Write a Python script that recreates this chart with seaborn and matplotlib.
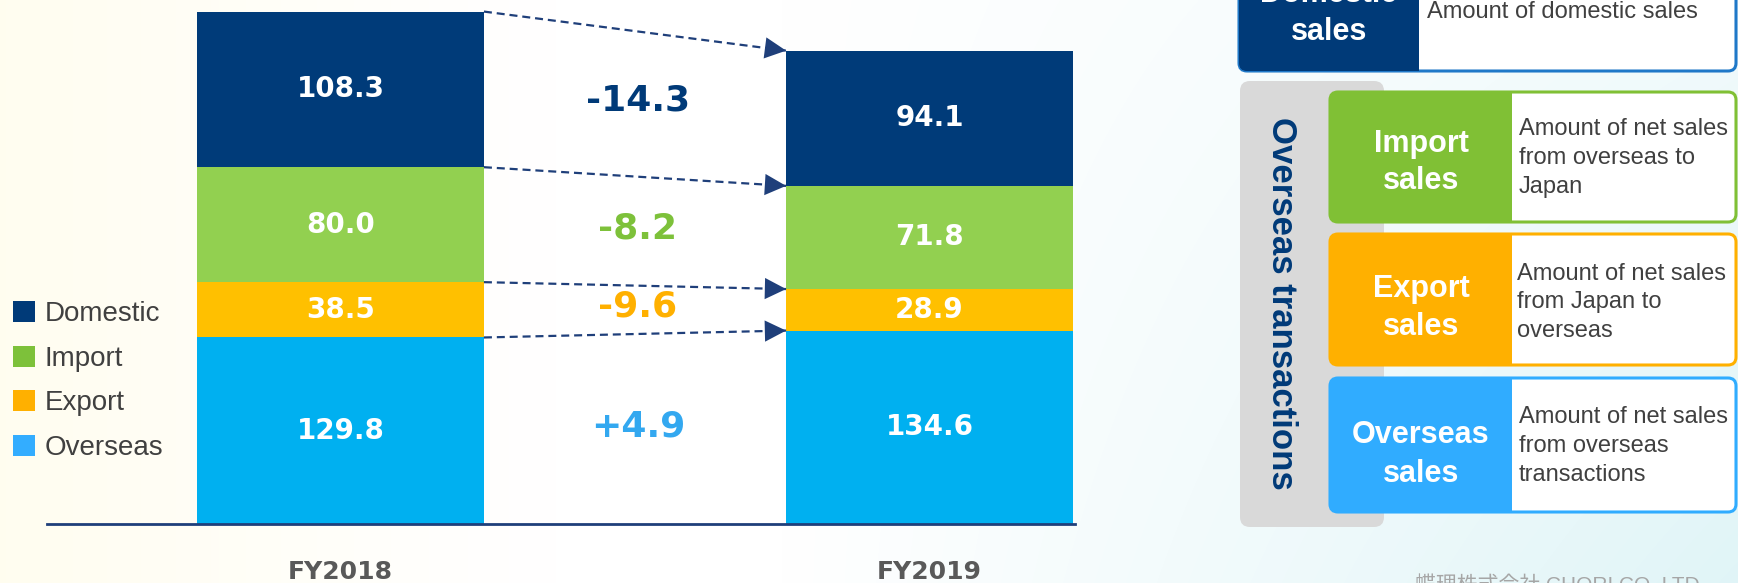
import numpy as np
import pandas as pd
import matplotlib
matplotlib.use("Agg")
import matplotlib.pyplot as plt
from matplotlib.patches import FancyBboxPatch, Rectangle, Patch
import seaborn as sns

# ---------------- data ----------------
years = ["FY2018", "FY2019"]
domestic = [108.3, 94.1]
import_sales = [80.0, 71.8]
export_sales = [38.5, 28.9]
overseas = [129.8, 134.6]
changes = [-14.3, -8.2, -9.6, 4.9]          # Domestic, Import, Export, Overseas
series_names = ["Domestic", "Import", "Export", "Overseas"]

panel_titles = [["Import", "sales"], ["Export", "sales"], ["Overseas", "sales"]]
panel_desc = [["Amount of net sales", "from overseas to", "Japan"],
              ["Amount of net sales", "from Japan to", "overseas"],
              ["Amount of net sales", "from overseas", "transactions"]]
footer = "蝶理株式会社 CHORI CO.,LTD."

# ---------------- style ----------------
bar_colors = ["#003B79", "#92D050", "#FFC000", "#00B0F0"]
legend_colors = ["#003A78", "#7DC13A", "#FFB000", "#33ADFF"]
change_colors = ["#003A78", "#7DC13A", "#FFB000", "#33A8F0"]
box_colors = ["#80C035", "#FFB000", "#30ACFF"]
navy = "#003A78"

sns.set_theme(style="white")
plt.rcParams["font.family"] = ["DejaVu Sans"]

W, H = 1738, 583
fig = plt.figure(figsize=(W / 100, H / 100), dpi=100)

# ---------------- background ----------------
bg = fig.add_axes([0, 0, 1, 1], zorder=-10)
yy, xx = np.mgrid[0:1:H * 1j, 0:1:W * 1j]
cream = np.array([1.0, 0.992, 0.93])
cyan = np.array([0.88, 0.96, 0.97])
wc = (np.clip(1 - xx / 0.32, 0, 1) ** 1.1 * 0.85)[..., None]
wy = (np.clip((xx - 0.45) / 0.55, 0, 1) * (0.45 + 0.55 * yy))[..., None]
img = np.ones((H, W, 3)) * (1 - wc - wy) + cream * wc + cyan * wy
bg.imshow(img, aspect="auto", extent=[0, 1, 0, 1])
bg.set_axis_off()

# ---------------- main chart ----------------
px_per_unit = 1.437
ax = fig.add_axes([47 / W, (H - 524) / H, 1028 / W, 524 / H])
ax.patch.set_alpha(0)

df = pd.DataFrame({"year": years, "Domestic": domestic, "Import": import_sales,
                   "Export": export_sales, "Overseas": overseas})
stack = df[["Overseas", "Export", "Import", "Domestic"]].cumsum(axis=1)
width = 0.487
for name, col in zip(series_names, bar_colors):
    sns.barplot(x=df["year"], y=stack[name], color=col, saturation=1,
                width=width, errorbar=None, linewidth=0, ax=ax)

ax.set_xlim(-0.4983, 1.247)
ax.set_ylim(0, 524 / px_per_unit)
ax.set_xlabel("")
ax.set_ylabel("")
ax.set_yticks([])
for s in ["top", "left", "right"]:
    ax.spines[s].set_visible(False)
ax.spines["bottom"].set_color("#1F3F7A")
ax.spines["bottom"].set_linewidth(2)
ax.tick_params(axis="x", length=0, pad=26, labelsize=18, labelcolor="#595959")
for t in ax.get_xticklabels():
    t.set_fontweight("bold")

# value labels
bottoms = {"Overseas": [0, 0]}
bottoms["Export"] = list(stack["Overseas"])
bottoms["Import"] = list(stack["Export"])
bottoms["Domestic"] = list(stack["Import"])
mids = {}
for name in series_names:
    vals = df[name].tolist()
    mids[name] = [b + v / 2 for b, v in zip(bottoms[name], vals)]
    for i, v in enumerate(vals):
        ax.text(i, mids[name][i], f"{v:.1f}", ha="center", va="center",
                color="white", fontsize=20, fontweight="bold")

# change labels
for name, ch, c in zip(series_names, changes, change_colors):
    y = (mids[name][0] + mids[name][1]) / 2
    ax.text(0.505, y + 2, f"{ch:+.1f}", ha="center", va="center", color=c,
            fontsize=26, fontweight="bold")

# dashed arrows between segment tops
for name in series_names:
    y0 = stack[name].iloc[0]
    y1 = stack[name].iloc[1]
    x0, x1 = width / 2, 1 - width / 2
    ax.plot([x0, x1], [y0, y1], color="#1F3F7A", lw=1.6,
            linestyle=(0, (3.6, 2.2)), solid_capstyle="butt")
    p0 = ax.transData.transform((x0, y0))
    p1 = ax.transData.transform((x1, y1))
    u = (p1 - p0) / np.linalg.norm(p1 - p0)
    L = 20
    ax.annotate("", xy=(x1, y1), xytext=(-u[0] * L, -u[1] * L),
                textcoords="offset pixels",
                arrowprops=dict(arrowstyle="-|>,head_length=0.9,head_width=0.45",
                                color="#1F3F7A", lw=0, shrinkA=0, shrinkB=0,
                                mutation_scale=17))

# legend
handles = [Patch(facecolor=c, edgecolor="none") for c in legend_colors]
fig.legend(handles, series_names, loc="center left",
           bbox_to_anchor=(13 / W, 1 - 381 / H), frameon=False,
           borderpad=0, borderaxespad=0, handlelength=0.8, handleheight=0.8,
           handletextpad=0.35, labelspacing=0.66,
           prop={"family": "Liberation Sans", "size": 20}, labelcolor="#404040")

# ---------------- right panel ----------------
pn = fig.add_axes([0, 0, 1, 1], zorder=5)
pn.set_xlim(0, W)
pn.set_ylim(H, 0)
pn.set_axis_off()
pn.patch.set_alpha(0)

def rbox(x0, y0, x1, y1, fc, ec="none", lw=0, r=8, z=1):
    p = FancyBboxPatch((x0, y0), x1 - x0, y1 - y0,
                       boxstyle=f"round,pad=0,rounding_size={r}",
                       fc=fc, ec=ec, lw=lw, zorder=z)
    pn.add_patch(p)

sans = "Liberation Sans"
# Domestic box (partly cut off at top, as in the source slide)
rbox(1239, -30, 1736, 71, "white", "#1F78C8", 2.2, z=1)
rbox(1239, -30, 1419, 71, navy, z=2)
pn.add_patch(Rectangle((1405, -30), 14, 101, fc=navy, ec="none", zorder=2))
pn.text(1329, -6, "Domestic", ha="center", va="center", color="white",
        fontsize=22, fontweight="bold", family=sans, zorder=3)
pn.text(1329, 32, "sales", ha="center", va="center", color="white",
        fontsize=22, fontweight="bold", family=sans, zorder=3)
pn.text(1427, 18, "Amount of domestic sales", ha="left", va="baseline",
        color="#404040", fontsize=17, family=sans, zorder=3)

# gray panel
rbox(1240, 81, 1384, 527, "#D9D9D9", r=10, z=1)
pn.text(1282, 303, "Overseas transactions", rotation=270, ha="center",
        va="center", color=navy, fontsize=25, fontweight="bold", family=sans,
        zorder=3)

box_y = [(92, 222), (234, 365), (378, 512)]
title_base = [(152, 189), (297, 335), (443, 482)]
desc_base = [(135, 164, 193), (280, 308, 337), (423, 452, 481)]
desc_x = [1519, 1517, 1519]
for k in range(3):
    y0, y1 = box_y[k]
    c = box_colors[k]
    rbox(1330, y0, 1736, y1, "white", c, 2.2, z=2)
    rbox(1330, y0, 1512, y1, c, z=3)
    pn.add_patch(Rectangle((1498, y0), 14, y1 - y0, fc=c, ec="none", zorder=3))
    for line, yb in zip(panel_titles[k], title_base[k]):
        pn.text(1421, yb, line, ha="center", va="baseline", color="white",
                fontsize=22, fontweight="bold", family=sans, zorder=4)
    for line, yb in zip(panel_desc[k], desc_base[k]):
        pn.text(desc_x[k], yb, line, ha="left", va="baseline", color="#404040",
                fontsize=17, family=sans, zorder=4)

# footer (cut off at the bottom edge, as in the source slide)
pn.text(1415, 592, footer, ha="left", va="baseline", color="#A6A6A6",
        fontsize=15, family=["Liberation Sans", "Noto Sans CJK JP"], zorder=4)

fig.savefig("out.png", dpi=100)
